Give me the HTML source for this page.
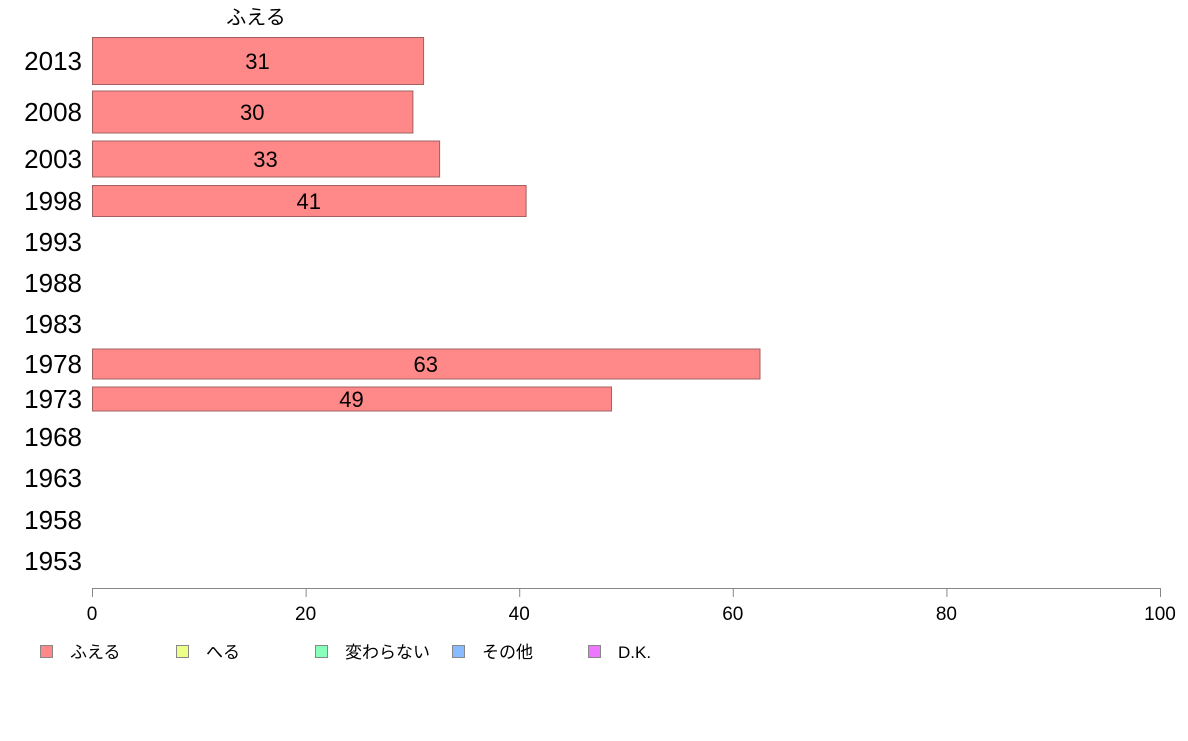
<!DOCTYPE html>
<html><head><meta charset="utf-8"><style>
body{margin:0;background:#fff;}
svg text{font-family:"Liberation Sans","Noto Sans CJK JP",sans-serif;}
</style></head><body>
<svg width="1188" height="736" viewBox="0 0 1188 736">
<g id="plot"></g>
<text x="256" y="24" font-size="20" text-anchor="middle">ふえる</text>
</svg>
<script>
const years=["2013","2008","2003","1998","1993","1988","1983","1978","1973","1968","1963","1958","1953"];
const values=[31,30,32.5,40.6,null,null,null,62.5,48.6,null,null,null,null];
const labels=["31","30","33","41","","","","63","49","","","",""];
const xTicks=[0,20,40,60,80,100];
const legendNames=["ふえる","へる","変わらない","その他","D.K."];
const legendColors=["#ff8888","#eeff88","#88ffbb","#88bbff","#ee77ff"];
// layout (row center y and bar height in px)
const rowY=[61,112,159,201,242,283,324,364,399,437,478,520,561];
const rowH=[47,42,36,31,30,30,30,30,24,30,30,30,30];
const x0=92,x1=1160;
const xs=v=>x0+(x1-x0)*v/100;
const NS="http://www.w3.org/2000/svg";
const g=document.getElementById('plot');
function mk(t,a,txt){const e=document.createElementNS(NS,t);for(const k in a)e.setAttribute(k,a[k]);if(txt!==undefined)e.textContent=txt;g.appendChild(e);return e;}
years.forEach((y,i)=>{
  const t=mk('text',{x:82,y:rowY[i]+9,'font-size':26,'text-anchor':'end',fill:'#000'},y);
  
  
  if(values[i]!=null){
    const r=mk('rect',{x:xs(0)+0.5,y:rowY[i]-rowH[i]/2,width:xs(values[i])-xs(0),height:rowH[i],fill:'#ff8888',stroke:'#a06060','stroke-width':1});
    
    
    const l=mk('text',{x:(xs(0)+xs(values[i]))/2,y:rowY[i]+8,'font-size':22,'text-anchor':'middle',fill:'#000'},labels[i]);
    
    
  }
});
const ax=mk('line',{x1:x0,x2:x1,y1:588.5,y2:588.5,stroke:'#888','stroke-width':1});


xTicks.forEach(v=>{
  const tk=mk('line',{x1:xs(v)+0.5,x2:xs(v)+0.5,y1:588,y2:597,stroke:'#888','stroke-width':1});
  
  
  const tl=mk('text',{x:xs(v),y:620,'font-size':19,'text-anchor':'middle',fill:'#000'},String(v));
  
  
});
const legX=[40,176,315,452,588];
legendNames.forEach((n,i)=>{
  const s=mk('rect',{x:legX[i]+0.5,y:645.5,width:12,height:12,fill:legendColors[i],stroke:'#888','stroke-width':1});
  
  
  const t=mk('text',{x:legX[i]+30,y:658,'font-size':17,fill:'#000'},n);
  
  
});
</script>
</body></html>
